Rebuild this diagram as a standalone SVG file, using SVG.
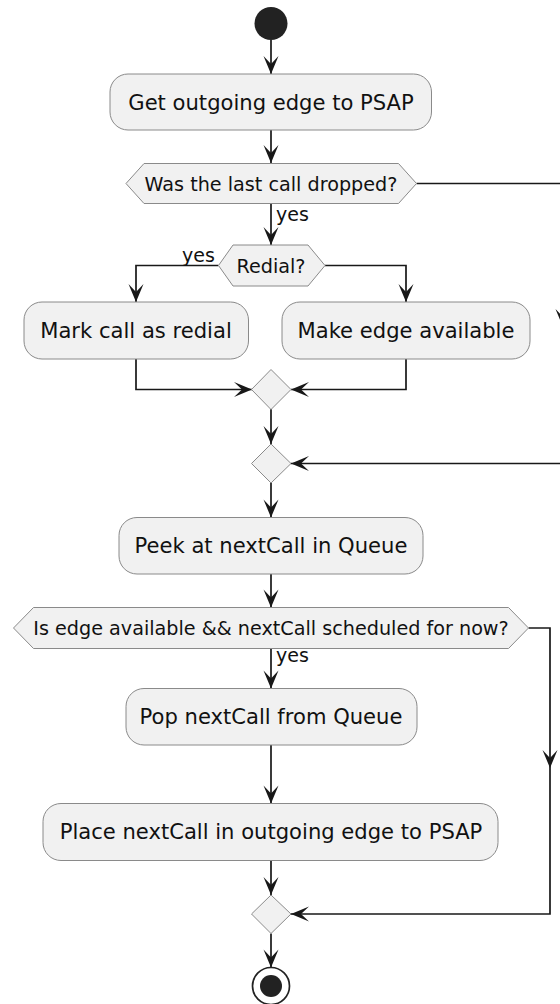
<svg xmlns="http://www.w3.org/2000/svg" width="560" height="1004" viewBox="0 0 560 1004">
  <style>
    .act { fill: #F1F1F1; stroke: #8a8a8a; stroke-width: 1; }
    .dec { fill: #F1F1F1; stroke: #8a8a8a; stroke-width: 1; }
    .lbl { font-family: "DejaVu Sans", sans-serif; font-size: 21.1px; fill: #111; text-anchor: middle; }
    .dlbl { font-family: "DejaVu Sans", sans-serif; font-size: 19.2px; fill: #111; text-anchor: middle; }
    .elbl { font-family: "DejaVu Sans", sans-serif; font-size: 19px; fill: #111; }
    .edge { fill: none; stroke: #181818; stroke-width: 1.7; }
    .head { fill: #181818; stroke: none; }
  </style>
  <defs>
    <!-- open-notch arrowhead, tip at origin pointing down -->
    <polygon id="ah" points="0,0 -7.5,-18 0,-10 7.5,-18"/>
  </defs>

  <rect width="560" height="1004" fill="#FFFFFF"/>

  <!-- connectors -->
  <g id="connectors">
    <path class="edge" d="M271,40 V74"/>
    <use href="#ah" class="head" transform="translate(271,74)"/>

    <path class="edge" d="M271,130 V163"/>
    <use href="#ah" class="head" transform="translate(271,163)"/>

    <!-- dropped? yes -->
    <path class="edge" d="M271,203.5 V245"/>
    <use href="#ah" class="head" transform="translate(271,245)"/>
    <text class="elbl" x="276" y="220.5">yes</text>

    <!-- dropped? no: around to the lower merge -->
    <path class="edge" d="M416.5,183.5 H563 V463.5 H291"/>
    <use href="#ah" class="head" transform="translate(563,327)"/>
    <use href="#ah" class="head" transform="translate(291,463.5) rotate(90)"/>

    <!-- Redial? branches -->
    <path class="edge" d="M218.5,265.5 H136 V302"/>
    <use href="#ah" class="head" transform="translate(136,302)"/>
    <text class="elbl" x="182" y="261.5">yes</text>
    <path class="edge" d="M325,265.5 H406 V302"/>
    <use href="#ah" class="head" transform="translate(406,302)"/>

    <path class="edge" d="M136,359 V389.5 H252"/>
    <use href="#ah" class="head" transform="translate(252,389.5) rotate(-90)"/>
    <path class="edge" d="M406,359 V389.5 H291"/>
    <use href="#ah" class="head" transform="translate(291,389.5) rotate(90)"/>

    <path class="edge" d="M271,409 V444"/>
    <use href="#ah" class="head" transform="translate(271,444)"/>

    <path class="edge" d="M271,483 V517.5"/>
    <use href="#ah" class="head" transform="translate(271,517.5)"/>

    <path class="edge" d="M271,574 V607.5"/>
    <use href="#ah" class="head" transform="translate(271,607.5)"/>

    <!-- scheduled? yes -->
    <path class="edge" d="M271,648.5 V688.5"/>
    <use href="#ah" class="head" transform="translate(271,688.5)"/>
    <text class="elbl" x="276" y="662">yes</text>

    <!-- scheduled? no -->
    <path class="edge" d="M528.5,628 H550 V914 H291"/>
    <use href="#ah" class="head" transform="translate(550,768)"/>
    <use href="#ah" class="head" transform="translate(291,914) rotate(90)"/>

    <path class="edge" d="M271,745 V803.5"/>
    <use href="#ah" class="head" transform="translate(271,803.5)"/>

    <path class="edge" d="M271,861 V895"/>
    <use href="#ah" class="head" transform="translate(271,895)"/>

    <path class="edge" d="M271,933.5 V967.5"/>
    <use href="#ah" class="head" transform="translate(271,967.5)"/>
  </g>

  <!-- start -->
  <g id="start">
    <circle cx="271" cy="23.5" r="16.5" fill="#222222"/>
  </g>

  <g id="getEdge">
    <rect class="act" x="110" y="74" width="321.5" height="56" rx="18"/>
    <text class="lbl" x="271" y="109.5">Get outgoing edge to PSAP</text>
  </g>

  <g id="lastCallDropped">
    <polygon class="dec" points="126,183.5 144,163.5 398.5,163.5 416.5,183.5 398.5,203.5 144,203.5"/>
    <text class="dlbl" x="271" y="190.5">Was the last call dropped?</text>
  </g>

  <g id="redial">
    <polygon class="dec" points="218.5,265.5 233,245 308,245 325,265.5 308,286 233,286"/>
    <text class="dlbl" x="271" y="272.5">Redial?</text>
  </g>

  <g id="markRedial">
    <rect class="act" x="24" y="302" width="224.5" height="57" rx="18"/>
    <text class="lbl" x="136" y="338">Mark call as redial</text>
  </g>

  <g id="makeAvailable">
    <rect class="act" x="282" y="302" width="248" height="57" rx="18"/>
    <text class="lbl" x="406" y="338">Make edge available</text>
  </g>

  <g id="mergeRedial">
    <polygon class="dec" points="271,369.5 291,389.5 271,409.5 251.5,389.5"/>
  </g>

  <g id="mergeDropped">
    <polygon class="dec" points="271,444 291,463.5 271,483 251.5,463.5"/>
  </g>

  <g id="peekNext">
    <rect class="act" x="119" y="517.5" width="304" height="56.5" rx="18"/>
    <text class="lbl" x="271" y="553">Peek at nextCall in Queue</text>
  </g>

  <g id="edgeScheduled">
    <polygon class="dec" points="13.5,628 33.5,607.5 508.5,607.5 528.5,628 508.5,648.5 33.5,648.5"/>
    <text class="dlbl" x="271" y="634.5">Is edge available &amp;&amp; nextCall scheduled for now?</text>
  </g>

  <g id="popNext">
    <rect class="act" x="126" y="688.5" width="291" height="56.5" rx="18"/>
    <text class="lbl" x="271" y="724">Pop nextCall from Queue</text>
  </g>

  <g id="placeNext">
    <rect class="act" x="43" y="803.5" width="455" height="57" rx="18"/>
    <text class="lbl" x="271" y="839">Place nextCall in outgoing edge to PSAP</text>
  </g>

  <g id="mergeScheduled">
    <polygon class="dec" points="271,895 291,914 271,933.5 251.5,914"/>
  </g>

  <!-- stop -->
  <g id="stop">
    <circle cx="271" cy="986" r="18.5" fill="#FFFFFF" stroke="#222222" stroke-width="1.7"/>
    <circle cx="271" cy="986" r="11" fill="#222222"/>
  </g>
</svg>
